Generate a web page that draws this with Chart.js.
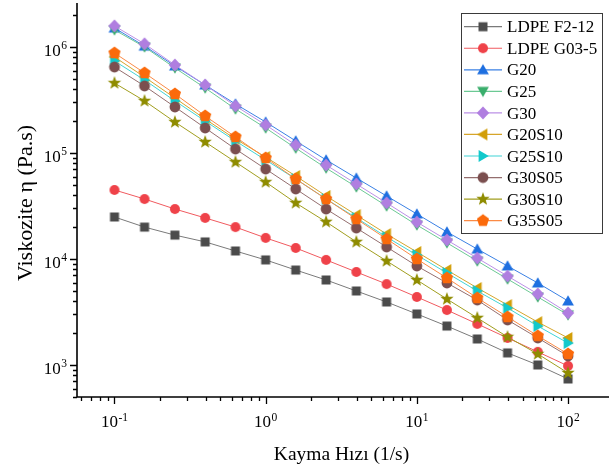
<!DOCTYPE html>
<html>
<head>
<meta charset="utf-8">
<title>Viskozite - Kayma Hızı</title>
<script src="https://cdn.jsdelivr.net/npm/chart.js@4.4.0/dist/chart.umd.min.js"></script>
<style>
    html, body { margin: 0; padding: 0; background: #fff; }
    #wrap { width: 609px; height: 468px; }
</style>
</head>
<body>
<div id="wrap"><canvas id="viscChart" width="609" height="468"></canvas></div>
<script>
// =========================================
// DATA
// =========================================

const shearRate = [0.1, 0.158, 0.251, 0.398, 0.631, 1, 1.58, 2.51, 3.98, 6.31, 10, 15.8, 25.1, 39.8, 63.1, 100];

const seriesNames = ['LDPE F2-12', 'LDPE G03-5', 'G20', 'G25', 'G30', 'G20S10', 'G25S10', 'G30S05', 'G30S10', 'G35S05'];

const ldpeF212 = [24900, 20000, 16800, 14500, 11900, 9800, 7870, 6340, 4990, 3930, 3030, 2330, 1760, 1300, 1000, 738];
const ldpeG035 = [44800, 36800, 29600, 24400, 20000, 15800, 12700, 9800, 7540, 5800, 4380, 3300, 2440, 1800, 1330, 980];
const g20      = [1510000, 1020000, 662000, 438000, 290000, 196000, 130000, 86000, 58000, 39300, 26600, 18000, 12400, 8590, 5940, 4020];
const g25      = [1450000, 1000000, 634000, 410000, 260000, 172000, 111000, 72000, 47800, 31600, 20900, 14200, 9570, 6470, 4380, 2970];
const g30      = [1580000, 1070000, 676000, 438000, 278000, 184000, 119000, 77000, 51000, 33800, 22300, 15100, 10200, 6900, 4680, 3100];
const g20s10   = [805000, 521000, 330000, 209000, 135500, 91600, 60700, 39300, 26000, 17200, 11650, 7870, 5330, 3680, 2540, 1800];
const g25s10   = [738000, 488000, 310000, 200000, 129800, 85900, 56900, 36800, 24400, 16100, 10900, 7380, 4990, 3450, 2330, 1610];
const g30s05   = [647000, 428700, 271800, 172200, 109000, 70600, 45800, 29600, 19600, 12980, 8590, 5940, 4100, 2660, 1800, 1216];
const g30s10   = [457000, 310000, 196000, 127000, 82200, 53200, 33800, 22400, 14500, 9580, 6340, 4190, 2780, 1840, 1270, 841];
const g35s05   = [877000, 568800, 360500, 223400, 141600, 89700, 56900, 36800, 23850, 15450, 10000, 6620, 4290, 2840, 1880, 1270];

const seriesValues = [ldpeF212, ldpeG035, g20, g25, g30, g20s10, g25s10, g30s05, g30s10, g35s05];

// axis ticks: decade values and their exponents
const xTickValues = [0.1, 1, 10, 100];
const xTickExp    = ['-1', '0', '1', '2'];
const yTickValues = [1000, 10000, 100000, 1000000];
const yTickExp    = ['3', '4', '5', '6'];

// =========================================
// STYLES
// =========================================

const markerShapes = ['square', 'circle', 'up', 'down', 'diamond', 'left', 'right', 'circleBig', 'star', 'pentagon'];
const markerColors = ['#4b4b4b', '#ef4249', '#1e6fe0', '#3aae6c', '#b07ee0', '#d29e08', '#12c9cc', '#7b4f4f', '#8f8c00', '#fb6a0b'];
const lineColors   = ['#7a7a7a', '#f05a5f', '#3a80e4', '#6cc994', '#bb90e6', '#d6a52a', '#40d4d6', '#946e6e', '#a19e1e', '#fb8a45'];

const SERIF = '"Liberation Serif", "Times New Roman", serif';

function makeMarker(shape, fill){
    const c = document.createElement('canvas');
    c.width = 16;
    c.height = 16;
    const g = c.getContext('2d');
    g.fillStyle = fill;
    g.translate(8, 8);
    g.beginPath();

    const tri = (angle) => {
        g.rotate(angle);
        g.moveTo(0, -5.8);
        g.lineTo(5.9, 4.4);
        g.lineTo(-5.9, 4.4);
    };

    switch(shape){
        case 'square':    g.rect(-4.5, -4.5, 9, 9); break;
        case 'circle':    g.arc(0, 0, 5, 0, Math.PI * 2); break;
        case 'circleBig': g.arc(0, 0, 5.4, 0, Math.PI * 2); break;
        case 'up':        tri(0); break;
        case 'down':      tri(Math.PI); break;
        case 'left':      tri(-Math.PI / 2); break;
        case 'right':     tri(Math.PI / 2); break;
        case 'diamond':
            g.moveTo(0, -6.5); g.lineTo(6.2, 0); g.lineTo(0, 6.5); g.lineTo(-6.2, 0);
            break;
        case 'star':
            for(let k = 0; k < 10; k++){
                const r = k % 2 === 0 ? 7 : 2.9;
                const a = -Math.PI / 2 + k * Math.PI / 5;
                k === 0 ? g.moveTo(r * Math.cos(a), r * Math.sin(a)) : g.lineTo(r * Math.cos(a), r * Math.sin(a));
            }
            break;
        case 'pentagon':
            for(let k = 0; k < 5; k++){
                const a = -Math.PI / 2 + k * 2 * Math.PI / 5;
                k === 0 ? g.moveTo(6.4 * Math.cos(a), 6.4 * Math.sin(a)) : g.lineTo(6.4 * Math.cos(a), 6.4 * Math.sin(a));
            }
            break;
    }
    g.closePath();
    g.fill();
    return c;
}

const markers = markerShapes.map((s, i) => makeMarker(s, markerColors[i]));

// =========================================
// DATASETS
// =========================================

const datasets = seriesNames.map((name, i) => ({
    label: name,
    data: shearRate.map((x, j) => ({x: x, y: seriesValues[i][j]})),
    showLine: true,
    borderColor: lineColors[i],
    backgroundColor: markerColors[i],
    borderWidth: 1,
    pointStyle: markers[i],
    pointRadius: 6,
    pointHoverRadius: 6,
    order: seriesNames.length - i
}));

// =========================================
// AXES, TICKS, TITLES AND LEGEND
// =========================================

function drawPow(ctx, exp, x, baseline, align){
    ctx.font = '17px ' + SERIF;
    const wBase = ctx.measureText('10').width;
    ctx.font = '11.5px ' + SERIF;
    const wExp = ctx.measureText(exp).width;
    const total = wBase + wExp + 0.5;
    const start = align === 'right' ? x - total : x - total / 2;
    ctx.textAlign = 'left';
    ctx.textBaseline = 'alphabetic';
    ctx.font = '17px ' + SERIF;
    ctx.fillText('10', start, baseline);
    ctx.font = '11.5px ' + SERIF;
    ctx.fillText(exp, start + wBase + 0.5, baseline - 6.5);
}

const originAxes = {
    id: 'originAxes',
    afterDraw(chart){
        const ctx = chart.ctx;
        const a = chart.chartArea;
        const xs = chart.scales.x;
        const ys = chart.scales.y;

        ctx.save();
        ctx.strokeStyle = '#000';
        ctx.fillStyle = '#000';

        // axis lines
        ctx.lineWidth = 1.6;
        ctx.beginPath();
        ctx.moveTo(a.left, a.top);
        ctx.lineTo(a.left, a.bottom);
        ctx.lineTo(a.right, a.bottom);
        ctx.stroke();

        // major and minor ticks, pointing outward
        ctx.lineWidth = 1.3;
        ctx.beginPath();
        for(let d = -2; d <= 2; d++){
            for(let m = 1; m <= 9; m++){
                const v = m * Math.pow(10, d);
                if(v < xs.min || v > xs.max) continue;
                const px = Math.round(xs.getPixelForValue(v)) + 0.5;
                ctx.moveTo(px, a.bottom);
                ctx.lineTo(px, a.bottom + (m === 1 ? 7 : 4));
            }
        }
        for(let d = 2; d <= 6; d++){
            for(let m = 1; m <= 9; m++){
                const v = m * Math.pow(10, d);
                if(v < ys.min || v > ys.max) continue;
                const py = Math.round(ys.getPixelForValue(v)) + 0.5;
                ctx.moveTo(a.left, py);
                ctx.lineTo(a.left - (m === 1 ? 7 : 4), py);
            }
        }
        ctx.stroke();

        // tick labels
        xTickValues.forEach((v, i) => {
            drawPow(ctx, xTickExp[i], xs.getPixelForValue(v), 427, 'center');
        });
        yTickValues.forEach((v, i) => {
            drawPow(ctx, yTickExp[i], 67, ys.getPixelForValue(v) + 9, 'right');
        });

        // axis titles
        ctx.textAlign = 'center';
        ctx.textBaseline = 'alphabetic';
        ctx.font = '19.5px ' + SERIF;
        ctx.fillText('Kayma Hızı (1/s)', (a.left + a.right) / 2 - 1.5, 460);

        ctx.save();
        ctx.font = '22px ' + SERIF;
        ctx.translate(32, 203);
        ctx.rotate(-Math.PI / 2);
        ctx.fillText('Viskozite η (Pa.s)', 0, 0);
        ctx.restore();

        // legend box
        ctx.lineWidth = 1;
        ctx.strokeStyle = '#3a3a3a';
        ctx.strokeRect(461.5, 13.5, 141, 220);

        chart.data.datasets.forEach((ds, i) => {
            const y = 26.7 + i * 21.55;
            ctx.strokeStyle = ds.borderColor;
            ctx.lineWidth = 1.2;
            ctx.beginPath();
            ctx.moveTo(464, y);
            ctx.lineTo(502, y);
            ctx.stroke();
            ctx.drawImage(ds.pointStyle, 483 - 8, y - 8);
            ctx.fillStyle = '#000';
            ctx.font = '17px ' + SERIF;
            ctx.textAlign = 'left';
            ctx.fillText(ds.label, 507, y + 5.6);
        });

        ctx.restore();
    }
};

// =========================================
// CHART
// =========================================

const ctx = document.getElementById('viscChart');

const chart = new Chart(ctx, {

    type: 'scatter',

    data: {
        datasets: datasets
    },

    options: {
        responsive: false,
        animation: false,
        layout: {
            autoPadding: false,
            padding: {top: 3, right: 0, bottom: 0, left: 0}
        },
        plugins: {
            legend: {display: false},
            tooltip: {enabled: false}
        },
        scales: {
            x: {
                type: 'logarithmic',
                min: 0.0565,
                max: 186.6,
                grid: {display: false},
                border: {display: false},
                ticks: {display: false},
                afterFit(scale){ scale.height = 71; }
            },
            y: {
                type: 'logarithmic',
                min: 499,
                max: 2600000,
                grid: {display: false},
                border: {display: false},
                ticks: {display: false},
                afterFit(scale){ scale.width = 77; }
            }
        }
    },

    plugins: [originAxes]
});
</script>
</body>
</html>
